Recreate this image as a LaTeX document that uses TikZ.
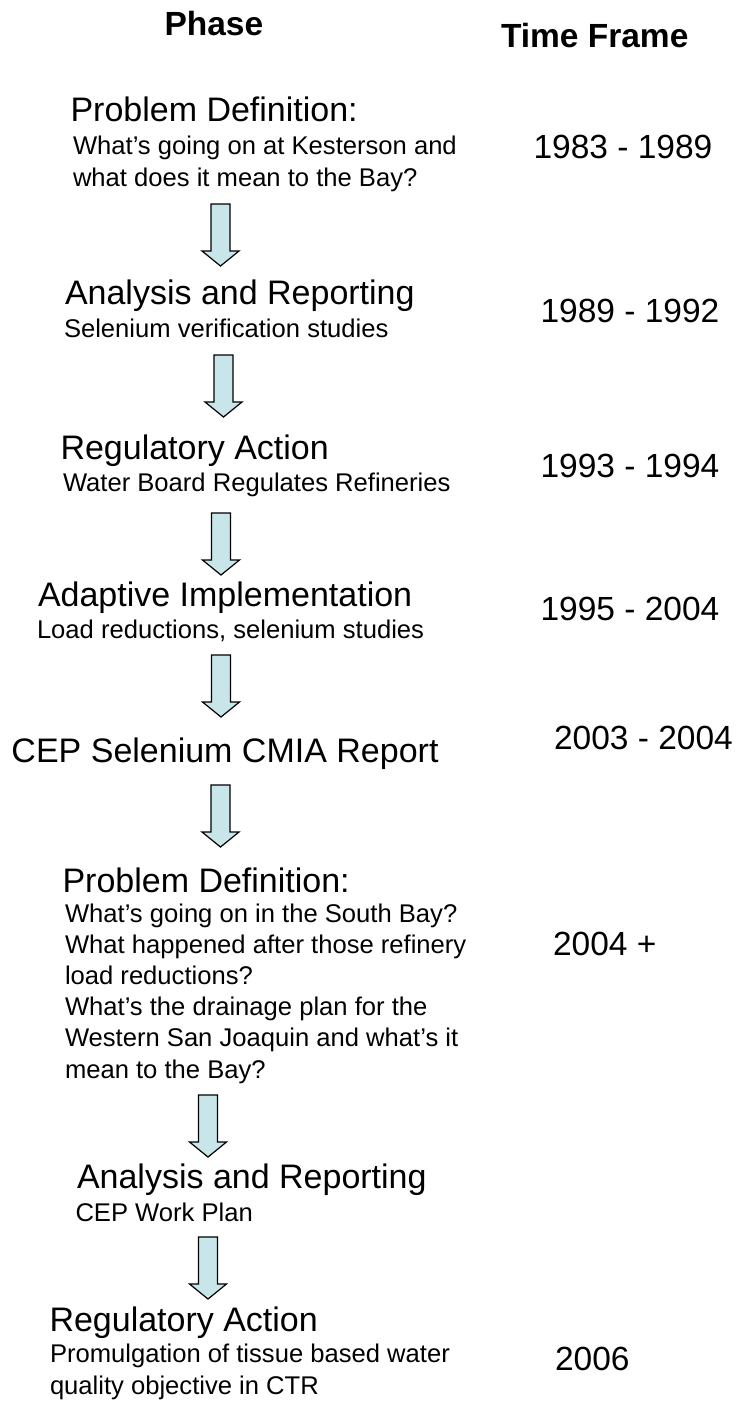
\documentclass[tikz,border=0pt]{standalone}
\usepackage{fontspec}
\setmainfont{Liberation Sans}
\usepackage{tikz}
\usetikzlibrary{positioning}
\definecolor{arrowfill}{RGB}{200,230,233}

\begin{document}
\begin{tikzpicture}[x=1pt, y=-1pt]
\tikzstyle{every node} = [inner sep=0pt, outer sep=0pt, anchor=base west]
\tikzstyle{colhead} = [font=\fontsize{33.5}{40}\selectfont\bfseries]
\tikzstyle{phase} = [font=\fontsize{34}{40}\selectfont]
\tikzstyle{detail} = [font=\fontsize{25.6}{31.2}\selectfont, align=left]
\tikzstyle{years} = [font=\fontsize{33.5}{40}\selectfont]
\tikzstyle{downarrow} = [draw=black, line width=1.2pt, fill=arrowfill, line join=miter]
\useasboundingbox (0,0) rectangle (739,1402);

\node[colhead] (hphase) at (164.5,36) {Phase};
\node[colhead] (htime) at (501,48) {Time Frame};

% multi-line details sit on the baseline of their last line
\node[phase] (pd1) at (70.5,122) {Problem Definition:};
\node[detail] (pd1d) at (73,186) {What’s going on at Kesterson and\\what does it mean to the Bay?};
\node[years] (y1) at (533.5,158) {1983 - 1989};

\node[phase] (ar1) at (65,304) {Analysis and Reporting};
\node[detail] (ar1d) at (64,337) {Selenium verification studies};
\node[years] (y2) at (540.5,322) {1989 - 1992};

\node[phase] (ra1) at (60.5,459) {Regulatory Action};
\node[detail] (ra1d) at (63,491) {Water Board Regulates Refineries};
\node[years] (y3) at (540.5,477) {1993 - 1994};

\node[phase] (ai) at (38,606) {Adaptive Implementation};
\node[detail] (aid) at (37,638) {Load reductions, selenium studies};
\node[years] (y4) at (540.5,620) {1995 - 2004};

\node[phase] (cmia) at (11.5,762) {CEP Selenium CMIA Report};
\node[years] (y5) at (554,749) {2003 - 2004};

\node[phase] (pd2) at (62.5,892) {Problem Definition:};
\node[detail] (pd2d) at (65,1078) {What’s going on in the South Bay?\\What happened after those refinery\\load reductions?\\What’s the drainage plan for the\\Western San Joaquin and what’s it\\mean to the Bay?};
\node[years] (y6) at (553,955) {2004 +};

\node[phase] (ar2) at (77,1188) {Analysis and Reporting};
\node[detail] (ar2d) at (75.5,1221) {CEP Work Plan};

\node[phase] (ra2) at (49.5,1331) {Regulatory Action};
\node[detail] (ra2d) at (50,1394) {Promulgation of tissue based water\\quality objective in CTR};
\node[years] (y7) at (555,1370) {2006};

\coordinate (a1) at (220.5,204);
\coordinate (a2) at (223.5,355);
\coordinate (a3) at (221,513);
\coordinate (a4) at (221,655);
\coordinate (a5) at (220.5,785);
\coordinate (a6) at (208,1095);
\coordinate (a7) at (208,1237);
\foreach \a in {a1,a2,a3,a4,a5,a6,a7}
	\draw[downarrow] (\a) ++(-9.5,0) -- ++(19,0) -- ++(0,47) -- ++(9,0) -- ++(-18.5,15) -- ++(-18.5,-15) -- ++(9,0) -- cycle;
\end{tikzpicture}
\end{document}
